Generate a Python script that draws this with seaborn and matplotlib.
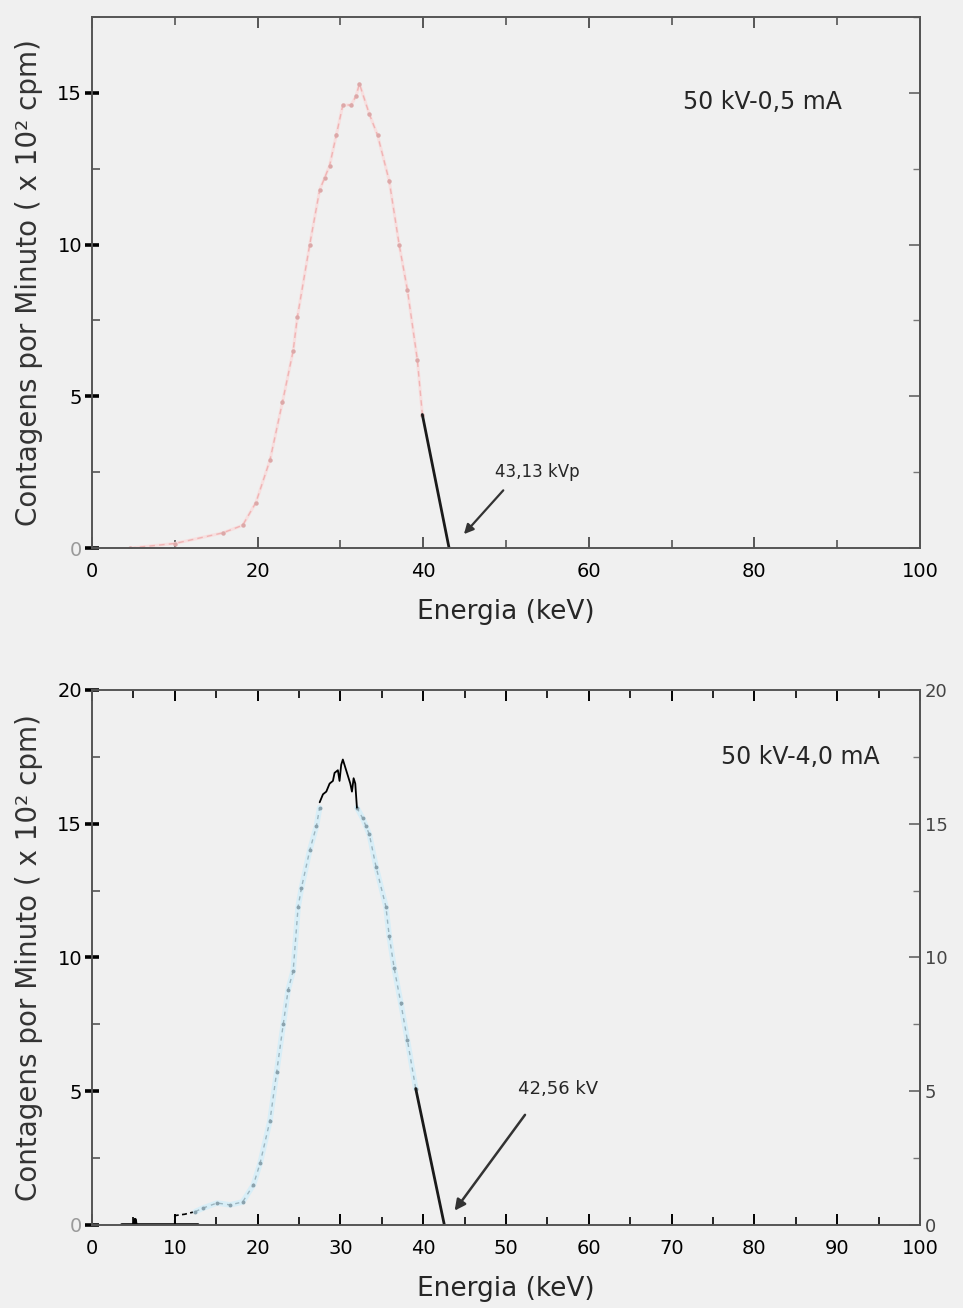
import matplotlib
matplotlib.use("Agg")
import matplotlib.pyplot as plt
from matplotlib.ticker import MultipleLocator
import seaborn as sns
import pandas as pd

# ---- 50 kV / 0,5 mA spectrum ----
energy_a = [4.6, 10.0, 15.8, 18.2, 19.8, 21.5, 23.0, 24.3, 24.8, 26.3, 27.5, 28.1,
            28.7, 29.5, 30.3, 31.3, 31.9, 32.3, 33.5, 34.5, 35.9, 37.1, 38.1, 39.3, 39.9]
counts_a = [0.0, 0.15, 0.5, 0.75, 1.5, 2.9, 4.8, 6.5, 7.6, 10.0, 11.8, 12.2,
            12.6, 13.6, 14.6, 14.6, 14.9, 15.3, 14.3, 13.6, 12.1, 10.0, 8.5, 6.2, 4.4]
cutoff_a_x = [39.9, 43.13]
cutoff_a_y = [4.4, 0.0]

# ---- 50 kV / 4,0 mA spectrum ----
low_b_x = [3.6, 5.1, 5.2, 5.3, 10.0, 12.8]
low_b_y = [0.0, 0.0, 0.2, 0.0, 0.0, 0.0]
tail_b_x = [10.0, 10.0, 11.2, 12.5]
tail_b_y = [0.0, 0.35, 0.4, 0.5]
rise_b_x = [12.5, 13.4, 15.1, 16.7, 18.2, 19.5, 20.3, 21.5, 22.3, 23.1, 23.7, 24.3,
            24.9, 25.3, 26.3, 27.1, 27.5]
rise_b_y = [0.5, 0.63, 0.82, 0.75, 0.86, 1.5, 2.3, 3.9, 5.7, 7.5, 8.8, 9.5,
            11.9, 12.6, 14.0, 14.9, 15.6]
peak_b_x = [27.5, 27.9, 28.3, 28.7, 29.1, 29.3, 29.7, 29.9, 30.1, 30.3, 30.8, 31.2,
            31.4, 31.6, 31.8, 32.0]
peak_b_y = [15.8, 16.1, 16.2, 16.5, 16.6, 16.9, 17.0, 16.6, 17.2, 17.4, 16.9, 16.5,
            16.2, 16.7, 16.5, 15.6]
fall_b_x = [32.0, 32.7, 33.1, 33.5, 34.3, 35.5, 35.9, 36.5, 37.3, 38.1, 39.1]
fall_b_y = [15.6, 15.2, 14.9, 14.6, 13.4, 11.9, 10.8, 9.6, 8.3, 6.9, 5.1]
cutoff_b_x = [39.1, 42.56]
cutoff_b_y = [5.1, 0.0]

ylabel = "Contagens por Minuto ( x 10² cpm)"
xlabel = "Energia (keV)"

BG = "#f0f0f0"
sns.set_style("ticks")
plt.rcParams["font.family"] = ["DejaVu Sans"]

fig = plt.figure(figsize=(9.63, 13.08), dpi=100, facecolor=BG)
ax1 = fig.add_axes([0.0955, 0.581, 0.8598, 0.406], facecolor=BG)
ax2 = fig.add_axes([0.0955, 0.0635, 0.8598, 0.409], facecolor=BG)


def line(ax, x, y, **kw):
    df = pd.DataFrame({"x": x, "y": y})
    sns.lineplot(data=df, x="x", y="y", ax=ax, estimator=None, sort=False, **kw)


# top panel curves
line(ax1, energy_a, counts_a, color="#f7dfdf", lw=2.2)
line(ax1, energy_a, counts_a, color="#f0b4b4", lw=1.0, linestyle=(0, (4, 3)),
     marker="o", markersize=3.2, markeredgewidth=0, markerfacecolor="#dca8a8")
line(ax1, cutoff_a_x, cutoff_a_y, color="#1a1a1a", lw=2.0)

# bottom panel curves
line(ax2, low_b_x, low_b_y, color="black", lw=2.5)
line(ax2, tail_b_x, tail_b_y, color="black", lw=1.2, linestyle=(0, (3, 2)))
for xs, ys in ((rise_b_x, rise_b_y), (fall_b_x, fall_b_y)):
    line(ax2, xs, ys, color="#d8eef7", lw=4.0)
    line(ax2, xs, ys, color="#9db6c0", lw=1.0, linestyle=(0, (3, 3)),
         marker="o", markersize=2.8, markeredgewidth=0, markerfacecolor="#8aa2ad")
line(ax2, peak_b_x, peak_b_y, color="black", lw=1.3)
line(ax2, cutoff_b_x, cutoff_b_y, color="#1a1a1a", lw=2.0)

# axes formatting
secs = []
for ax, ymax, xmaj, xmin, yt in ((ax1, 17.5, 20, 10, [0, 5, 10, 15]),
                                 (ax2, 20, 10, 5, [0, 5, 10, 15, 20])):
    ax.set_xlim(0, 100)
    ax.set_ylim(0, ymax)
    ax.xaxis.set_major_locator(MultipleLocator(xmaj))
    ax.xaxis.set_minor_locator(MultipleLocator(xmin))
    ax.set_yticks(yt)
    ax.yaxis.set_minor_locator(MultipleLocator(2.5))
    ax.set_xlabel(xlabel, fontsize=19, labelpad=13)
    ax.set_ylabel(ylabel, fontsize=20, color="#333333", labelpad=10)
    for s in ax.spines.values():
        s.set_visible(True)
        s.set_color("#555555")
        s.set_linewidth(1.4)
    ax.tick_params(axis="both", which="both", direction="in", top=True, right=False,
                   labelsize=14, colors="#555555", labelcolor="black")
    ax.tick_params(axis="y", which="major", direction="inout", length=10, width=2.6,
                   colors="black", pad=2)
    ax.tick_params(axis="x", which="major", length=8, width=1.4, pad=10)
    ax.tick_params(which="minor", length=6, width=1.2)
    ax.get_xticklabels()[0].set_color("#9a9a9a")
    ax.get_yticklabels()[0].set_color("#9a9a9a")

    # right-hand ticks pointing inwards
    sec = ax.secondary_yaxis("right")
    sec.set_yticks(yt)
    sec.yaxis.set_minor_locator(MultipleLocator(2.5))
    sec.tick_params(which="both", direction="in", colors="#777777", labelcolor="#444444",
                    labelsize=13)
    sec.tick_params(which="major", length=8, width=1.4)
    sec.tick_params(which="minor", length=5, width=1.0)
    sec.spines["right"].set_color("#666666")
    sec.spines["right"].set_linewidth(1.4)
    secs.append(sec)

secs[0].tick_params(labelright=False)
ax2.tick_params(axis="x", which="both", top=True, colors="black")
ax2.get_xticklabels()[0].set_color("#9a9a9a")

# condition labels
ax1.text(81, 14.7, "50 kV-0,5 mA", fontsize=17, ha="center", va="center")
ax2.text(85.5, 17.5, "50 kV-4,0 mA", fontsize=17, ha="center", va="center")

# kVp annotations
ax1.annotate("", xy=(44.7, 0.39), xytext=(49.9, 1.97),
             arrowprops=dict(arrowstyle="-|>", color="#333333", lw=1.6, mutation_scale=14))
ax1.text(48.7, 2.5, "43,13 kVp", fontsize=12, ha="left", va="center")
ax2.annotate("", xy=(43.6, 0.45), xytext=(52.5, 4.2),
             arrowprops=dict(arrowstyle="-|>", color="#333333", lw=1.8, mutation_scale=16))
ax2.text(51.4, 5.1, "42,56 kV", fontsize=13, ha="left", va="center")

fig.savefig("out.png", dpi=100, facecolor=BG)
